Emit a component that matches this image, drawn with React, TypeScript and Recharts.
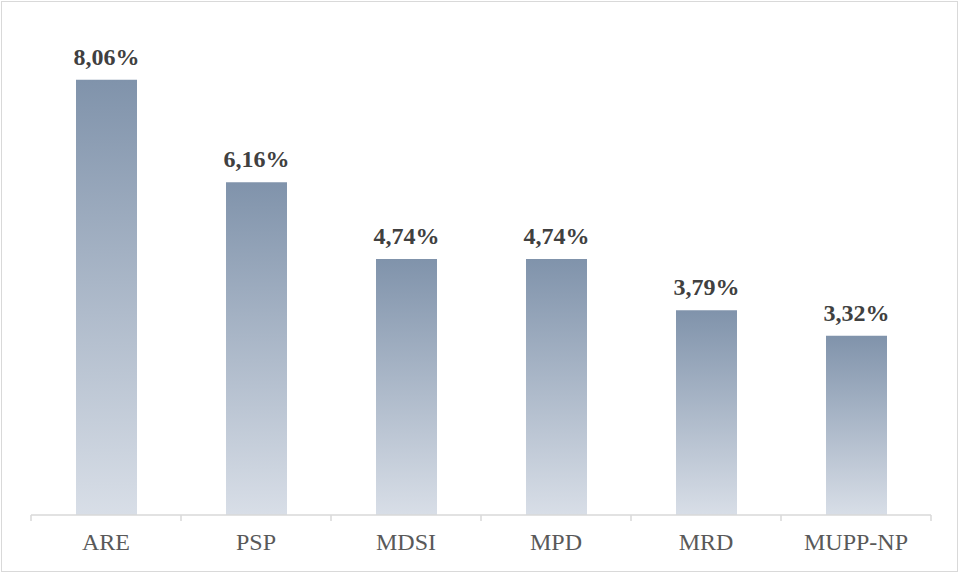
import React from 'react';
import { BarChart, Bar, XAxis, YAxis, LabelList } from 'recharts';

const categories = ['ARE', 'PSP', 'MDSI', 'MPD', 'MRD', 'MUPP-NP'];
const values = [8.06, 6.16, 4.74, 4.74, 3.79, 3.32];
const valueLabels = ['8,06%', '6,16%', '4,74%', '4,74%', '3,79%', '3,32%'];

const data = categories.map((name, i) => ({ name, value: values[i], label: valueLabels[i] }));

const FONT = "'Times New Roman', 'Liberation Serif', Tinos, Times, serif";

const AxisTick = (props: any) => {
  const { x, y, payload, index } = props;
  const half = 75;
  return (
    <g>
      <line x1={x - half} x2={x - half} y1={y} y2={y + 6} stroke="#d9d9d9" strokeWidth={1.5} />
      {index === categories.length - 1 && (
        <line x1={x + half} x2={x + half} y1={y} y2={y + 6} stroke="#d9d9d9" strokeWidth={1.5} />
      )}
      <text x={x} y={y + 35} textAnchor="middle" fill="#595959" style={{ fontFamily: FONT, fontSize: 24 }}>
        {payload.value}
      </text>
    </g>
  );
};

const TopLabel = (props: any) => {
  const { x, y, width, value } = props;
  return (
    <text x={x + width / 2} y={y - 15} textAnchor="middle" fill="#404040" style={{ fontFamily: FONT, fontSize: 24, fontWeight: 700 }}>
      {value}
    </text>
  );
};

export default function App() {
  return (
    <div style={{ position: 'absolute', left: 0, top: 0, width: 960, height: 573, background: '#fff' }}>
      <div style={{ position: 'absolute', left: 1, top: 1, width: 955, height: 569, border: '1.5px solid #d9d9d9', boxSizing: 'content-box' }} />
      <div style={{ position: 'absolute', left: 0, top: 0 }}>
        <BarChart width={960} height={573} data={data} margin={{ top: 29, right: 29, left: 31, bottom: 0 }}>
          <defs>
            <linearGradient id="barGrad" x1="0" y1="0" x2="0" y2="1">
              <stop offset="0%" stopColor="#8093ab" />
              <stop offset="100%" stopColor="#d8dee7" />
            </linearGradient>
          </defs>
          <YAxis hide domain={[0, 9]} />
          <XAxis
            dataKey="name"
            height={58}
            axisLine={{ stroke: '#d9d9d9', strokeWidth: 1.5 }}
            tickLine={false}
            tickSize={0}
            tickMargin={0}
            tick={<AxisTick />}
            interval={0}
          />
          <Bar dataKey="value" barSize={61} fill="url(#barGrad)" isAnimationActive={false}>
            <LabelList dataKey="label" content={<TopLabel />} />
          </Bar>
        </BarChart>
      </div>
    </div>
  );
}
